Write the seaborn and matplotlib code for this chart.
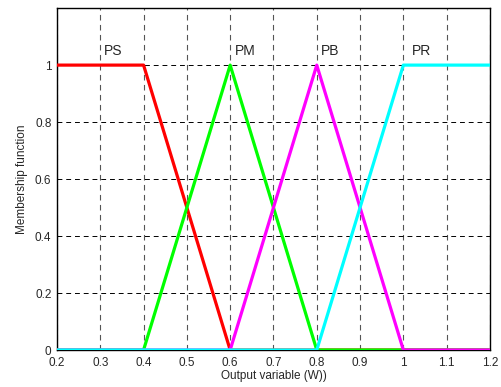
import matplotlib
matplotlib.use("Agg")
import matplotlib.pyplot as plt
import seaborn as sns
import pandas as pd

x_ps = [0.2, 0.4, 0.6, 1.2]
y_ps = [1, 1, 0, 0]
x_pm = [0.2, 0.4, 0.6, 0.8, 1.2]
y_pm = [0, 0, 1, 0, 0]
x_pb = [0.2, 0.6, 0.8, 1.0, 1.2]
y_pb = [0, 0, 1, 0, 0]
x_pr = [0.2, 0.8, 1.0, 1.2]
y_pr = [0, 0, 1, 1]
names = ["PS", "PM", "PB", "PR"]
colors = ["#ff0000", "#00ff00", "#ff00ff", "#00ffff"]
label_x = [0.308, 0.61, 0.81, 1.02]
label_y = [1.05, 1.05, 1.05, 1.05]
xticks = [0.2, 0.3, 0.4, 0.5, 0.6, 0.7, 0.8, 0.9, 1.0, 1.1, 1.2]
xticklabels = ["0.2", "0.3", "0.4", "0.5", "0.6", "0.7", "0.8", "0.9", "1", "1.1", "1.2"]
yticks = [0, 0.2, 0.4, 0.6, 0.8, 1.0]
yticklabels = ["0", "0.2", "0.4", "0.6", "0.8", "1"]

sns.set_style("white")
plt.rcParams['font.family'] = ['Liberation Sans', 'DejaVu Sans']

frames = []
for n, xs, ys in zip(names, [x_ps, x_pm, x_pb, x_pr], [y_ps, y_pm, y_pb, y_pr]):
    frames.append(pd.DataFrame({"x": xs, "y": ys, "mf": n}))
df = pd.concat(frames, ignore_index=True)

fig = plt.figure(figsize=(5.02, 3.87), dpi=100)
ax = fig.add_axes([0.1135, 0.0956, 0.8625, 0.8834])

for i, n in enumerate(names):
    sub = df[df["mf"] == n]
    sns.lineplot(data=sub, x="x", y="y", color=colors[i], linewidth=2.3,
                 ax=ax, sort=False, estimator=None, zorder=3 + i)

for n, lx, ly in zip(names, label_x, label_y):
    ax.text(lx, ly, n, fontsize=10, ha="left", va="center", zorder=10)

ax.set_xlim(0.2, 1.2)
ax.set_ylim(0, 1.2)
ax.set_xticks(xticks)
ax.set_xticklabels(xticklabels, fontsize=8.5)
ax.set_yticks(yticks)
ax.set_yticklabels(yticklabels, fontsize=8.5)
ax.tick_params(direction="in", length=3, width=0.6)
ax.tick_params(axis="x", pad=5)
ax.tick_params(axis="y", pad=4)
ax.xaxis.grid(True, color="#555555", linestyle=(0, (5, 4)), linewidth=0.8)
ax.yaxis.grid(True, color="black", linestyle=(0, (5, 4)), linewidth=0.7)
ax.set_axisbelow(True)
for s in ax.spines.values():
    s.set_color("black")
    s.set_linewidth(1.0)
ax.set_xlabel("Output variable (W))", fontsize=8.5, labelpad=1)
ax.set_ylabel("Membership function", fontsize=8.5, labelpad=5)

fig.savefig("out.png", dpi=100)
